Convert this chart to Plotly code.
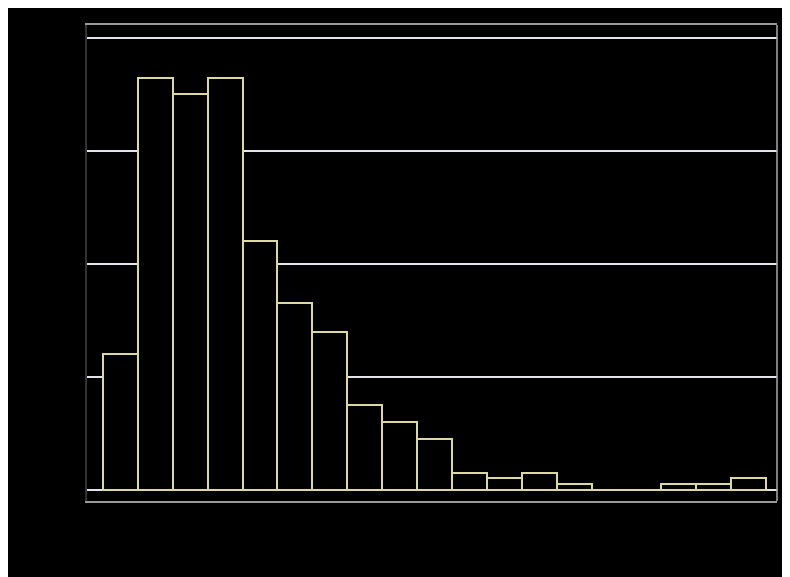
import plotly.graph_objects as go

# bin index (categories) and counts per bin
bins = list(range(19))
counts = [24, 73, 70, 73, 44, 33, 28, 15, 12, 9, 3, 2, 3, 1, 0, 0, 1, 1, 2]

fig = go.Figure()
fig.add_trace(go.Bar(
    x=bins, y=counts, width=1,
    marker=dict(color="#000000", line=dict(color="#dcd8a0", width=2)),
))

fig.update_layout(
    width=790, height=577,
    paper_bgcolor="#000000", plot_bgcolor="#000000",
    margin=dict(l=79, r=21, t=17, b=84),
    showlegend=False, bargap=0,
    xaxis=dict(range=[-0.959, 18.815], showgrid=False, zeroline=False,
               showticklabels=False, ticks="",
               showline=True, linecolor="#9a9a9a", linewidth=2, mirror=True),
    yaxis=dict(range=[-2.0, 82.3], tickvals=[0, 20, 40, 60, 80],
               showgrid=True, gridcolor="#e4e4ec", gridwidth=1.5,
               zeroline=True, zerolinecolor="#e4e4ec", zerolinewidth=2,
               showticklabels=False, ticks="",
               showline=True, linecolor="#333333", linewidth=2, mirror=False),
    shapes=[dict(type="line", xref="paper", yref="paper", x0=1, x1=1, y0=0, y1=1,
                 line=dict(color="#aaaaaa", width=1.5), layer="above")],
)

fig.write_html("out.html")
